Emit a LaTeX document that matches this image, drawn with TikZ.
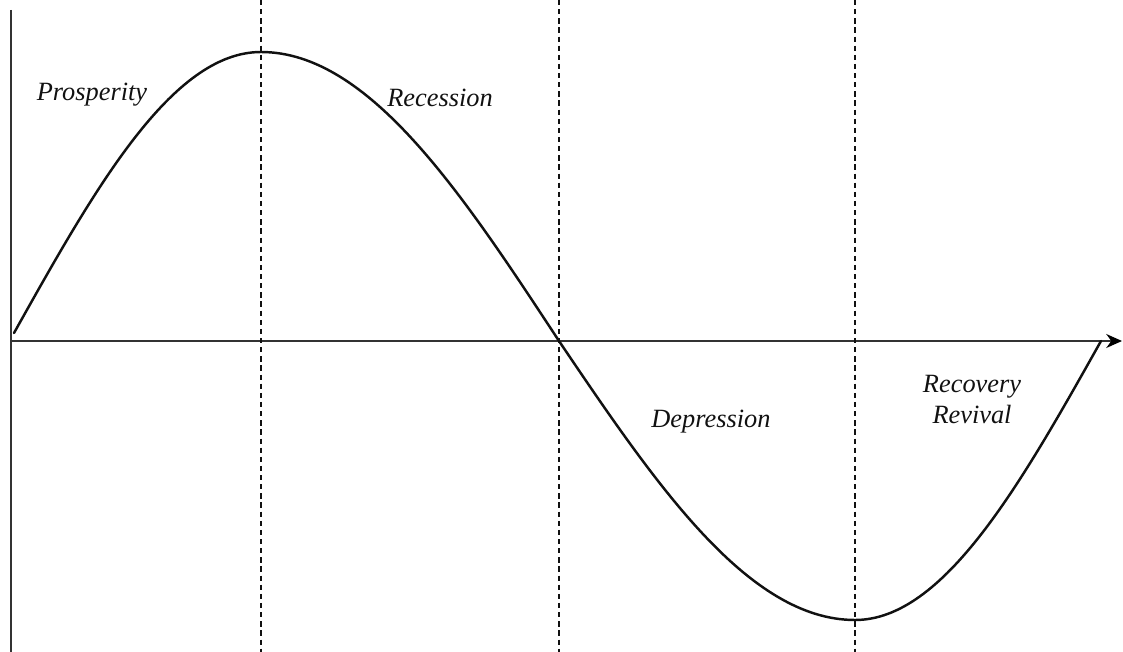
\documentclass[tikz,border=0pt]{standalone}
\usepackage{fontspec}
\setmainfont{Liberation Serif}
\usetikzlibrary{positioning, calc, arrows.meta}
\definecolor{Dark}{HTML}{111111}
\definecolor{Axis}{HTML}{333333}
\tikzset{
    phase/.style={font=\fontsize{15}{17.5}\selectfont\itshape, text=Dark, align=center, anchor=base, inner sep=0pt},
    axisline/.style={color=Axis, line width=0.8pt},
    guide/.style={color=Dark, line width=0.65pt, dash pattern=on 3pt off 2.2pt},
    wave/.style={color=Dark, line width=1.4pt, line cap=round},
}
\begin{document}
\begin{tikzpicture}[x=0.02cm, y=-0.02cm]
                \useasboundingbox (0,0) rectangle (1123,652);

                % Punti del ciclo
                \coordinate (start) at (14,333);
                \coordinate (peak) at (261,52);
                \coordinate (mid) at (559,341);
                \coordinate (trough) at (855,620);
                \coordinate (stop) at (1101,341);

                % Assi
                \coordinate (origin) at (11,341);
                \coordinate (xend) at (1122,341);
                \draw[axisline] (11,10) -- (11,652);
                \draw[axisline, -{Stealth[length=9pt, width=8pt, color=black]}] (origin) -- (xend);

                % Linee guida
                \foreach \g in {peak, mid, trough} {
                    \draw[guide] (\g |- 0,0) -- (\g |- 0,652);
                }

                % Curva
                \draw[wave] (start) sin (peak) cos (mid) sin (trough) cos (stop);

                % Etichette
                \node[phase] (prosperity) at (92,101) {Prosperity};
                \node[phase] (recession) at (440,107) {Recession};
                \node[phase] (depression) at (711,427) {Depression};
                \node[phase] (recovery) at (972,423) {Recovery\\Revival};
            \end{tikzpicture}
\end{document}
